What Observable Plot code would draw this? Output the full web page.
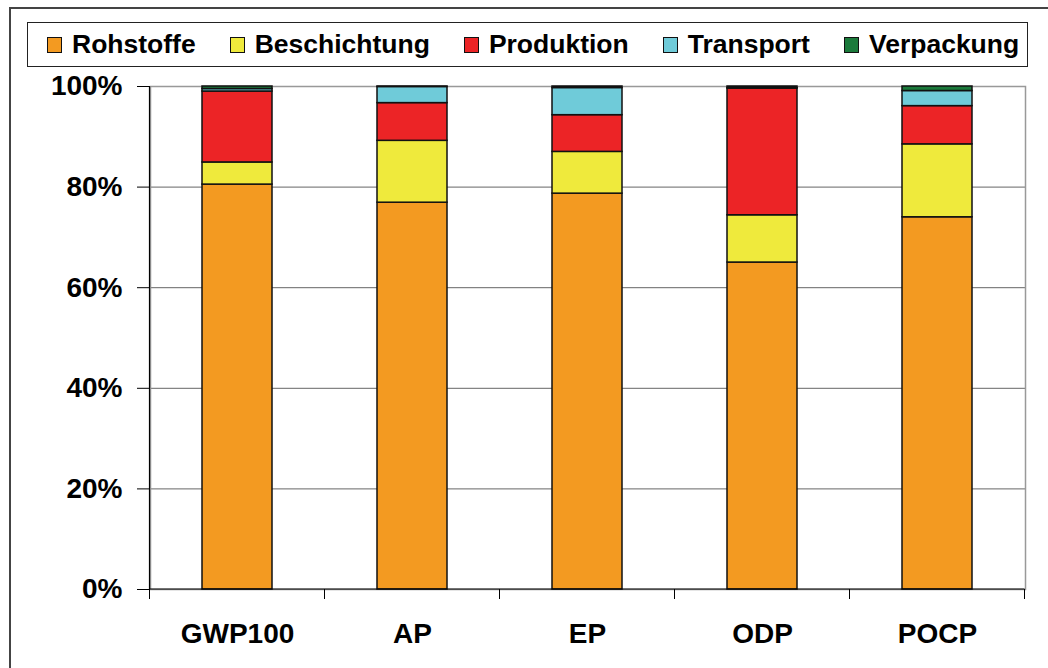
<!DOCTYPE html>
<html>
<head>
<meta charset="utf-8">
<script src="https://cdn.jsdelivr.net/npm/d3@7"></script>
<script src="https://cdn.jsdelivr.net/npm/@observablehq/plot@0.6"></script>
<style>
  html, body { margin: 0; padding: 0; background: #fff; }
  #wrap { position: relative; width: 1048px; height: 668px; overflow: hidden; font-family: "Liberation Sans", Arial, sans-serif; }
  #outer { position: absolute; left: 9px; top: 7px; width: 1080px; height: 700px; border: 2px solid #444; box-sizing: border-box; }
  #legend { position: absolute; left: 27px; top: 22px; width: 1001px; height: 45px; border: 1.5px solid #222; box-sizing: border-box;
            display: flex; align-items: center; font-weight: bold; font-size: 26.5px; color: #000; padding-left: 19px; }
  .item { display: flex; align-items: center; margin-right: 34px; white-space: nowrap; }
  .sw { width: 15px; height: 16px; border: 1.5px solid #111; margin-right: 10px; box-sizing: border-box; }
  #chart { position: absolute; left: 0; top: 0; }
</style>
</head>
<body>
<div id="wrap">
  <div id="outer"></div>
  <div id="legend"></div>
  <div id="chart"></div>
</div>
<script>
const categories = ["GWP100", "AP", "EP", "ODP", "POCP"];
const series = ["Rohstoffe", "Beschichtung", "Produktion", "Transport", "Verpackung"];
const rohstoffe    = [80.5, 76.9, 78.7, 65.0, 74.0];
const beschichtung = [4.4, 12.3, 8.3, 9.4, 14.5];
const produktion   = [14.1, 7.5, 7.3, 25.2, 7.6];
const transport    = [0.5, 3.2, 5.4, 0.1, 3.0];
const verpackung   = [0.5, 0.1, 0.3, 0.3, 0.9];
const colors = ["#F39A21", "#EFEA3C", "#EC2426", "#6FCBD9", "#1B7A3B"];
const yTicks = [0, 20, 40, 60, 80, 100];
const gridTicks = [20, 40, 60, 80];

const seriesValues = [rohstoffe, beschichtung, produktion, transport, verpackung];
const rows = [];
series.forEach((s, si) => categories.forEach((c, ci) => rows.push({cat: c, series: s, value: seriesValues[si][ci]})));

// legend
const legend = document.getElementById("legend");
series.forEach((s, i) => {
  const it = document.createElement("div");
  it.className = "item";
  const sw = document.createElement("div");
  sw.className = "sw";
  sw.style.background = colors[i];
  const t = document.createElement("span");
  t.textContent = s;
  it.appendChild(sw); it.appendChild(t);
  legend.appendChild(it);
});

// band-boundary ticks and black axis lines drawn from the scales
function boundaryTicks(index, scales, values, dimensions) {
  const x = scales.x, y = scales.y;
  const g = d3.create("svg:g");
  const step = x.step ? x.step() : (dimensions.width - dimensions.marginLeft - dimensions.marginRight) / categories.length;
  const bw = x.bandwidth ? x.bandwidth() : 0;
  const y0 = y(0), y1 = y(100);
  const bounds = categories.map(c => x(c) + bw / 2 - step / 2);
  bounds.push(x(categories[categories.length - 1]) + bw / 2 + step / 2);
  bounds.forEach(b => {
    g.append("line").attr("x1", b).attr("x2", b).attr("y1", y0).attr("y2", y0 + 10)
      .attr("stroke", "#000").attr("stroke-width", 1);
  });
  g.append("line").attr("x1", bounds[0]).attr("x2", bounds[bounds.length - 1]).attr("y1", y0).attr("y2", y0)
    .attr("stroke", "#000").attr("stroke-width", 1.2);
  g.append("line").attr("x1", bounds[0]).attr("x2", bounds[0]).attr("y1", y0).attr("y2", y1)
    .attr("stroke", "#000").attr("stroke-width", 1.2);
  return g.node();
}

const plot = Plot.plot({
  width: 1048,
  height: 668,
  marginLeft: 150,
  marginRight: 23,
  marginTop: 86,
  marginBottom: 79,
  style: {fontFamily: "'Liberation Sans', Arial, sans-serif", fontSize: "28px", fontWeight: "bold", background: "transparent", color: "#000"},
  x: {domain: categories, paddingInner: 0.6, paddingOuter: 0.3, label: null},
  y: {domain: [0, 100], label: null},
  color: {domain: series, range: colors},
  marks: [
    Plot.ruleY(gridTicks, {stroke: "#666", strokeWidth: 1}),
    Plot.frame({stroke: "#999", strokeWidth: 1.5}),
    Plot.barY(rows, Plot.stackY({x: "cat", y: "value", fill: "series", stroke: "#111", strokeWidth: 1.5})),
    boundaryTicks,
    Plot.axisY({ticks: yTicks, tickFormat: d => d + "%", tickSize: 13, tickPadding: 15, label: null, stroke: "#000"}),
    Plot.axisX({tickSize: 0, tickPadding: 34, label: null})
  ]
});
document.getElementById("chart").appendChild(plot);
</script>
</body>
</html>
